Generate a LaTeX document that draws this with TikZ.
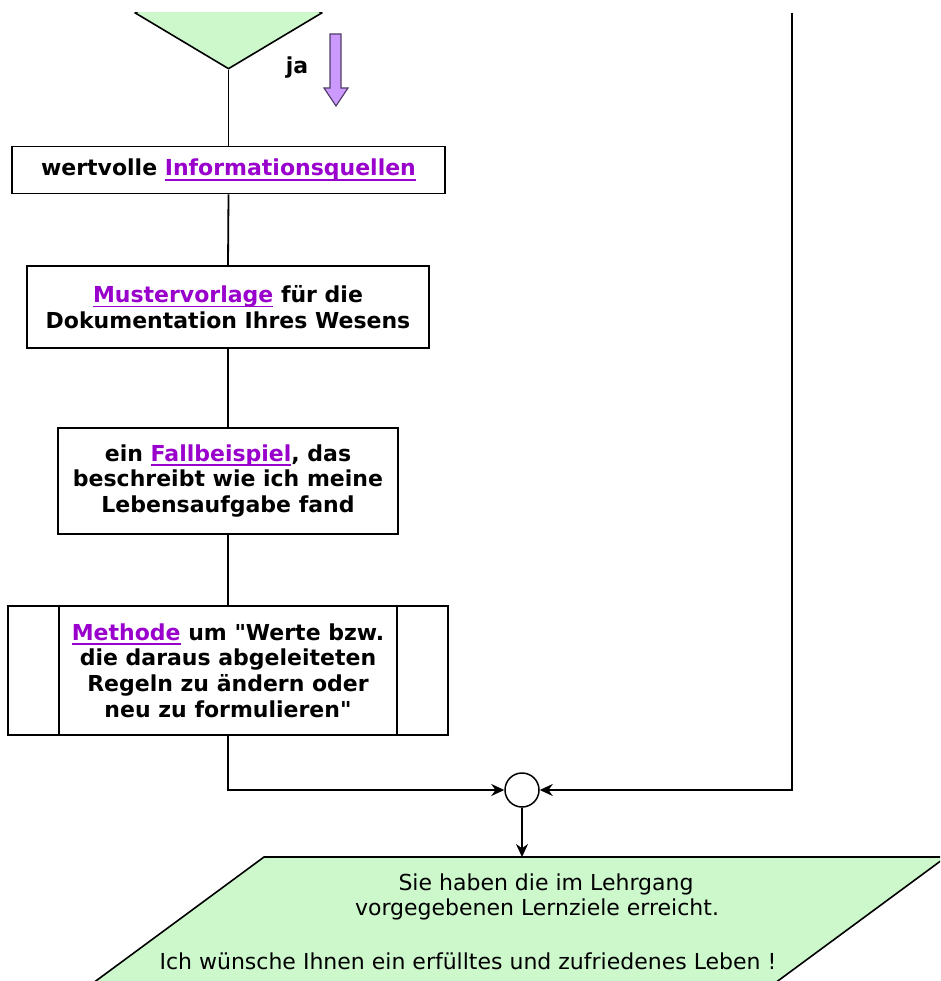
\documentclass[tikz,border=0pt]{standalone}
\usepackage{fontspec}
\setmainfont{DejaVu Sans}
\newfontfamily\rawfont{DejaVu Sans}
\usetikzlibrary{shapes.geometric,arrows.meta}
\definecolor{linkc}{RGB}{153,0,204}
\definecolor{paleg}{RGB}{204,248,204}
\definecolor{arrowp}{RGB}{204,153,255}
\newcommand{\lnk}[1]{\textcolor{linkc}{\setbox0\hbox{#1}\rlap{\rule[-5pt]{\wd0}{1.8pt}}\box0}}
\newcommand{\qq}{{\rawfont\bfseries"}}
\begin{document}
\begin{tikzpicture}[x=1pt,y=-1pt,
 box/.style={draw=black, line width=1.8pt, rectangle, inner sep=0pt, align=center, font=\fontsize{22}{25.8}\selectfont\bfseries},
 flow/.style={line width=1.8pt},
 tip/.style={-{Stealth[length=13pt,width=12pt]}},
 plain/.style={font=\fontsize{22}{25}\selectfont, inner sep=0pt}
]
\useasboundingbox (0,0) rectangle (940,981);
\clip (0,13) rectangle (940,981);
% decision (lower half visible)
\node[diamond, draw=black, fill=paleg, line width=1.6pt, minimum width=187pt, minimum height=112pt, inner sep=0pt] (dec) at (228.5,13) {};
\node[font=\fontsize{22}{25}\selectfont\bfseries, inner sep=0pt] (ja) at (297,68) {ja};
\path[fill=arrowp, draw=black!60!arrowp, line width=1.2pt]
  (330,34) -- (341,34) -- (341,88) -- (348,88) -- (336,106) -- (324,88) -- (330,88) -- cycle;
% boxes
\node[box, minimum width=433pt, minimum height=47pt] (b1) at (228.5,170) {wertvolle \lnk{Informationsquellen}};
\node[box, minimum width=402pt, minimum height=82pt] (b2) at (228,307) {\lnk{Mustervorlage} für die\\Dokumentation Ihres Wesens};
\node[box, minimum width=340pt, minimum height=106pt] (b3) at (228,481) {ein \lnk{Fallbeispiel}, das\\beschreibt wie ich meine\\Lebensaufgabe fand};
\node[box, minimum width=440pt, minimum height=129pt] (b4) at (228,670.5) {\lnk{Methode} um \qq Werte bzw.\\die daraus abgeleiteten\\Regeln zu ändern oder\\neu zu formulieren\qq};
\draw[line width=1.8pt] ([xshift=52pt]b4.north west) -- ([xshift=52pt]b4.south west);
\draw[line width=1.8pt] ([xshift=-52pt]b4.north east) -- ([xshift=-52pt]b4.south east);
% merge
\node[circle, draw=black, line width=1.5pt, minimum size=34pt, inner sep=0pt] (merge) at (522,790) {};
\coordinate (noout) at (792,13);
% output parallelogram
\path[fill=paleg, draw=black, line width=1.6pt] (264,857) -- (946,857) -- (752,1000) -- (70,1000) -- cycle;
\coordinate (paratop) at (522,857);
\node[plain] (t1) at (546,884) {Sie haben die im Lehrgang};
\node[plain] (t2) at (537,909) {vorgegebenen Lernziele erreicht.};
\node[plain] (t3) at (468,961) {Ich wünsche Ihnen ein erfülltes und zufriedenes Leben !};
% connectors
\draw[flow] (dec.south) -- (b1.north);
\draw[flow] (b1.south) -- (b2.north);
\draw[flow] (b2.south) -- (b3.north);
\draw[flow] (b3.south) -- (b4.north);
\draw[flow,tip] (b4.south) |- (merge.west);
\draw[flow,tip] (noout) |- (merge.east);
\draw[flow,tip] (merge.south) -- (paratop);
\end{tikzpicture}
\end{document}
